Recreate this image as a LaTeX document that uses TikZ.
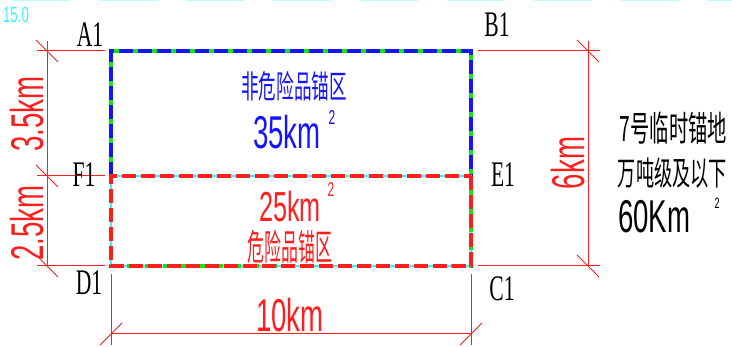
\documentclass[tikz,border=0pt]{standalone}
\usepackage{fontspec}
\usepackage{tikz}
\newfontfamily\cadfont[FakeStretch=0.6]{Liberation Sans}
\newfontfamily\lblfont[FakeStretch=0.6]{Liberation Serif}
\newfontfamily\cjk[FakeStretch=0.55]{Noto Sans CJK SC}
\newfontfamily\cjknarrow[FakeStretch=0.47]{Noto Sans CJK SC}
\definecolor{cadred}{RGB}{255,30,30}
\definecolor{cadblue}{RGB}{20,20,255}
\definecolor{cadgreen}{RGB}{20,230,20}
\definecolor{cadcyan}{RGB}{60,240,255}
\tikzstyle{corner} = [font={\lblfont\fontsize{36}{36}\selectfont}, inner sep=0pt]
\tikzstyle{dimtext} = [color=cadred, font={\cadfont\fontsize{46}{46}\selectfont}, inner sep=0pt]
\tikzstyle{sqtext} = [font={\cadfont\fontsize{20}{20}\selectfont}, inner sep=0pt]
\tikzstyle{dimline} = [draw=cadred, line width=1pt]
\tikzstyle{tick} = [draw=cadred, line width=1pt]
\tikzstyle{under} = [draw=cadgreen, line width=3.5pt]
\tikzstyle{safe} = [draw=cadblue, line width=3.5pt, dash pattern=on 14pt off 5pt]
\tikzstyle{danger} = [draw=cadred, line width=3.5pt, dash pattern=on 14pt off 5pt]
\tikzstyle{thin} = [draw=cadcyan, line width=1.5pt]

\begin{document}
\begin{tikzpicture}[x=1pt,y=-1pt]
  \useasboundingbox (0,0) rectangle (732,347);
  \draw[cadcyan!35, line width=1.5pt, dash pattern=on 58pt off 29pt, dash phase=75pt] (0,0.7) -- (732,0.7);
  \node[text=cadcyan, font={\cadfont\fontsize{22}{22}\selectfont}, inner sep=0pt] (scale) at (16,15) {15.0};
  \coordinate (A) at (111,51);
  \coordinate (B) at (471,51);
  \coordinate (E) at (471,176);
  \coordinate (F) at (111,176);
  \coordinate (C) at (471,266);
  \coordinate (D) at (111,266);
  \coordinate (lA) at (47,51);
  \coordinate (lF) at (47,176);
  \coordinate (lD) at (47,266);
  \coordinate (rB) at (588,51);
  \coordinate (rC) at (588,266);
  \coordinate (bD) at (111,334);
  \coordinate (bC) at (471,334);
  \draw[under] (F) -- (A) -- (B) -- (E);
  \draw[safe] (F) -- (A) -- (B) -- (E);
  \draw[thin] (F) -- (D) -- (C) -- (E) -- (F);
  \draw[under, dash pattern=on 6pt off 12pt, dash phase=-14pt] (E) -- (C) -- (D) -- (F);
  \draw[danger] (E) -- (C) -- (D) -- (F) -- (E);
  \foreach \p in {A,F,D} \draw[dimline, shorten <=-10pt, shorten >=6pt] (l\p) -- (\p);
  \foreach \p in {B,C} \draw[dimline, shorten <=7pt, shorten >=-12pt] (\p) -- (r\p);
  \foreach \p in {C,D} \draw[dimline, shorten <=8pt, shorten >=-11pt] (\p) -- (b\p);
  \draw[dimline, shorten <=-10pt] (lA) -- (lD);
  \draw[dimline, shorten <=-10pt] (rB) -- (rC);
  \draw[dimline] (bD) -- (bC);
  \foreach \p in {lA,lF,lD,rB,rC} \draw[tick] (\p) ++(-11,-11) -- ++(22,22);
  \foreach \p in {bD,bC} \draw[tick] (\p) ++(-11,11) -- ++(22,-22);
  \node[corner] (A1) at (90,35) {A1};
  \node[corner] (B1) at (497,25) {B1};
  \node[corner] (F1) at (84,175) {F1};
  \node[corner] (E1) at (503,175) {E1};
  \node[corner] (D1) at (89,283) {D1};
  \node[corner] (C1) at (502,289) {C1};
  \node[dimtext, rotate=90] (len35) at (27,114) {3.5km};
  \node[dimtext, rotate=90] (len25) at (27,223) {2.5km};
  \node[dimtext, rotate=90] (len6) at (568,163) {6km};
  \node[dimtext] (len10) at (290,315) {10km};
  \node[text=cadblue, font={\cjk\fontsize{32}{32}\selectfont}, inner sep=0pt] (safename) at (294,86) {非危险品锚区};
  \node[dimtext, text=cadblue] (safearea) at (287,132) {35km};
  \node[sqtext, text=cadblue] (safesq) at (332,118) {2};
  \node[dimtext, font={\cadfont\fontsize{42}{42}\selectfont}] (dangerarea) at (290,206) {25km};
  \node[sqtext, text=cadred] (dangersq) at (331,190) {2};
  \node[text=cadred, font={\cjknarrow\fontsize{36}{36}\selectfont}, inner sep=0pt] (dangername) at (290,247) {危险品锚区};
  \node[font={\cjk\fontsize{35}{35}\selectfont}, inner sep=0pt, anchor=east] (anchor7) at (727,128) {7号临时锚地};
  \node[font={\cjk\fontsize{33}{33}\selectfont}, inner sep=0pt, anchor=east] (tonnage) at (727,173) {万吨级及以下};
  \node[font={\cadfont\fontsize{46}{46}\selectfont}, inner sep=0pt, anchor=west] (area60) at (618,217) {60Km};
  \node[sqtext, font={\cadfont\fontsize{15}{15}\selectfont}] (sq60) at (717,203) {2};
\end{tikzpicture}
\end{document}
